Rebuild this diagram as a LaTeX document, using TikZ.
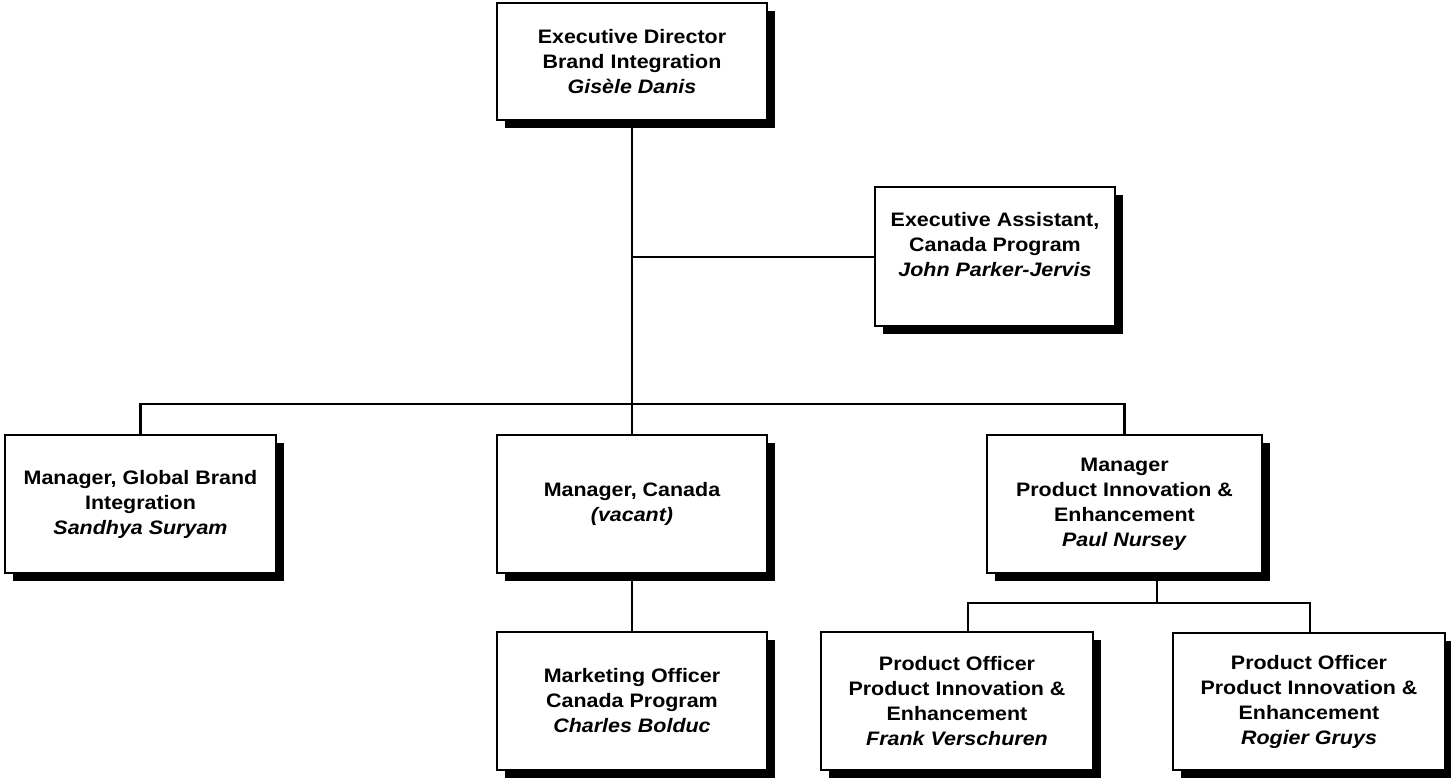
\documentclass[tikz,border=0pt]{standalone}
\usepackage{fontspec}
\setmainfont{Liberation Sans}[FakeStretch=1.1]
\usetikzlibrary{shadows}
\begin{document}
\begin{tikzpicture}[x=1pt,y=-1pt,
  orgbox/.style={draw, line width=2.8pt, fill=white, align=center,
    inner sep=0pt, font=\fontsize{19.5}{25}\selectfont\bfseries,
    drop shadow={shadow xshift=7.5pt, shadow yshift=-7.5pt, opacity=1, fill=black}},
  conn/.style={line width=2.2pt}]
\path[use as bounding box] (0,0) rectangle (1451,779);
\fill[white] (0,0) rectangle (1451,779);

\coordinate (busc) at (632,404);
\coordinate (eab) at (632,257);
\coordinate (rs) at (1157,573);
\coordinate (rbus) at (1157,603);

\node[orgbox, minimum width=270, minimum height=117] (top) at (632,61.5)
  {Executive Director\\Brand Integration\\\textit{Gisèle Danis}};
\node[orgbox, minimum width=240, minimum height=139] (ea) at (995,256.5) {};
\node[font=\fontsize{19.5}{25}\selectfont\bfseries, align=center, inner sep=0pt] (eatext) at (995,245)
  {Executive Assistant,\\Canada Program\\\textit{John Parker-Jervis}};
\node[orgbox, minimum width=271, minimum height=138] (L) at (140.5,504)
  {Manager, Global Brand\\Integration\\\textit{Sandhya Suryam}};
\node[orgbox, minimum width=270, minimum height=138] (M) at (632,504)
  {Manager, Canada\\\textit{(vacant)}};
\node[orgbox, minimum width=275, minimum height=138] (R) at (1124.5,504)
  {Manager\\Product Innovation \&\\Enhancement\\\textit{Paul Nursey}};
\node[orgbox, minimum width=270, minimum height=138] (MC) at (632,701)
  {Marketing Officer\\Canada Program\\\textit{Charles Bolduc}};
\node[orgbox, minimum width=272, minimum height=138] (P1) at (957,701)
  {Product Officer\\Product Innovation \&\\Enhancement\\\textit{Frank Verschuren}};
\node[orgbox, minimum width=272, minimum height=137] (P2) at (1309,701.5)
  {Product Officer\\Product Innovation \&\\Enhancement\\\textit{Rogier Gruys}};

\draw[conn] (top.south) -- (M.north);
\draw[conn] (eab) -- (ea.west |- eab);
\draw[conn] (L.north) |- (busc) -| (R.north);
\draw[conn] (M.south) -- (MC.north);
\draw[conn] (rs) -- (rbus);
\draw[conn] ([xshift=11pt]P1.north) |- (rbus) -| ([xshift=1pt]P2.north);
\end{tikzpicture}
\end{document}
